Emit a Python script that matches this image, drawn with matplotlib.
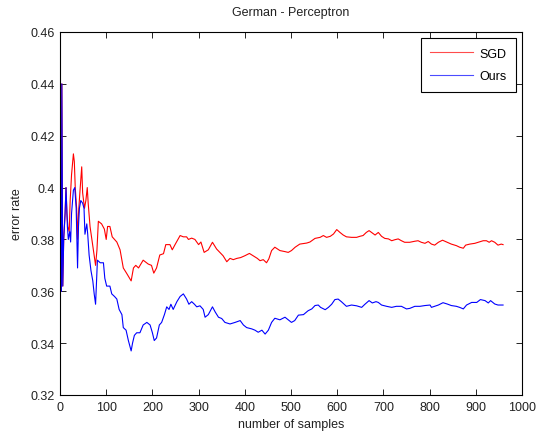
import matplotlib
matplotlib.use('Agg')
import matplotlib.pyplot as plt

# values (sample index, error rate)
sgd_n = [3, 4, 5, 6, 8, 11, 13, 15, 17, 20, 22, 25, 29, 31, 33, 36, 38, 40, 43, 47,
         49, 53, 56, 59, 61, 65, 69, 74, 77, 80, 83, 90, 96, 100, 103, 108, 113, 123,
         130, 137, 144, 154, 159, 164, 170, 180, 191, 198, 203, 209, 216, 224, 229,
         238, 243, 249, 260, 267, 274, 278, 285, 292, 300, 305, 312, 321, 330, 339,
         346, 353, 361, 368, 375, 383, 391, 400, 410, 418, 427, 433, 440, 447, 452,
         458, 465, 476, 487, 494, 501, 509, 519, 534, 541, 552, 563, 570, 577, 585,
         592, 599, 606, 613, 620, 631, 642, 649, 656, 663, 669, 676, 682, 689, 696,
         703, 711, 718, 725, 732, 739, 746, 757, 768, 775, 782, 790, 797, 804, 811,
         819, 828, 838, 847, 858, 865, 873, 878, 887, 898, 907, 916, 923, 929, 934,
         941, 948, 955, 959]
sgd_err = [0.360, 0.440, 0.400, 0.362, 0.380, 0.390, 0.400, 0.390, 0.385, 0.383,
           0.395, 0.405, 0.413, 0.410, 0.400, 0.392, 0.380, 0.390, 0.398, 0.408,
           0.398, 0.392, 0.395, 0.400, 0.394, 0.385, 0.380, 0.374, 0.370, 0.376,
           0.387, 0.386, 0.384, 0.380, 0.385, 0.385, 0.381, 0.379, 0.376, 0.369,
           0.367, 0.364, 0.369, 0.370, 0.369, 0.372, 0.3705, 0.370, 0.367, 0.369,
           0.374, 0.3745, 0.378, 0.378, 0.376, 0.378, 0.3815, 0.381, 0.381, 0.380,
           0.3805, 0.380, 0.378, 0.379, 0.375, 0.376, 0.3789, 0.3763, 0.375, 0.3737,
           0.3714, 0.3727, 0.3722, 0.3727, 0.373, 0.3737, 0.3746, 0.3737, 0.3727,
           0.3718, 0.3722, 0.371, 0.3725, 0.3757, 0.377, 0.3757, 0.3753, 0.375,
           0.3757, 0.377, 0.3782, 0.3786, 0.379, 0.3804, 0.3808, 0.3815, 0.3808,
           0.3812, 0.3821, 0.3838, 0.3827, 0.3817, 0.381, 0.3808, 0.3808, 0.3812,
           0.3815, 0.3827, 0.3834, 0.3825, 0.3817, 0.3827, 0.3812, 0.3804, 0.3802,
           0.3795, 0.3799, 0.3802, 0.3795, 0.3789, 0.3789, 0.3793, 0.3795, 0.3789,
           0.3785, 0.3792, 0.3782, 0.3778, 0.3789, 0.3797, 0.3789, 0.3782, 0.3776,
           0.377, 0.3766, 0.3778, 0.3782, 0.3785, 0.379, 0.3795, 0.3795, 0.3789,
           0.3795, 0.3789, 0.3778, 0.3782, 0.378]

ours_n = [3, 4, 5, 6, 8, 11, 13, 16, 18, 21, 23, 25, 29, 32, 35, 37, 38, 40, 42, 45,
          49, 52, 54, 58, 60, 63, 67, 71, 74, 77, 81, 87, 94, 97, 101, 108, 112, 118,
          123, 128, 134, 137, 143, 148, 154, 157, 161, 166, 173, 180, 188, 195, 200,
          204, 209, 215, 220, 226, 231, 236, 240, 245, 253, 260, 267, 274, 279, 285,
          291, 296, 303, 310, 314, 321, 330, 336, 343, 350, 357, 368, 379, 390, 397,
          404, 415, 422, 429, 437, 444, 451, 458, 465, 476, 487, 494, 501, 508, 516,
          527, 537, 545, 552, 559, 564, 574, 581, 588, 595, 602, 609, 620, 631, 642,
          653, 660, 669, 676, 684, 689, 696, 707, 718, 728, 739, 750, 757, 768, 779,
          790, 801, 804, 811, 819, 829, 838, 847, 858, 865, 873, 880, 891, 902, 910,
          920, 927, 932, 941, 948, 959]
ours_err = [0.360, 0.440, 0.400, 0.362, 0.380, 0.390, 0.400, 0.385, 0.380, 0.383,
            0.379, 0.390, 0.399, 0.400, 0.392, 0.377, 0.369, 0.385, 0.392, 0.395,
            0.394, 0.392, 0.382, 0.386, 0.382, 0.374, 0.368, 0.364, 0.359, 0.355,
            0.372, 0.371, 0.371, 0.365, 0.362, 0.362, 0.359, 0.358, 0.357, 0.353,
            0.351, 0.346, 0.345, 0.341, 0.337, 0.340, 0.343, 0.344, 0.344, 0.347,
            0.348, 0.347, 0.344, 0.341, 0.342, 0.347, 0.348, 0.351, 0.354, 0.353,
            0.355, 0.353, 0.356, 0.358, 0.359, 0.357, 0.355, 0.356, 0.355, 0.354,
            0.3544, 0.353, 0.350, 0.351, 0.354, 0.352, 0.350, 0.3495, 0.348, 0.3474,
            0.348, 0.3487, 0.347, 0.346, 0.3455, 0.345, 0.3442, 0.345, 0.3435, 0.345,
            0.348, 0.3496, 0.349, 0.350, 0.349, 0.348, 0.3487, 0.3508, 0.351, 0.3525,
            0.3532, 0.3545, 0.3547, 0.3538, 0.3529, 0.3538, 0.355, 0.3568, 0.357,
            0.356, 0.3542, 0.3547, 0.3544, 0.3538, 0.355, 0.3564, 0.3555, 0.356,
            0.3557, 0.3547, 0.3542, 0.3538, 0.3542, 0.3542, 0.3532, 0.3534, 0.3542,
            0.3542, 0.3545, 0.3547, 0.3538, 0.3542, 0.3547, 0.3556, 0.3551, 0.3545,
            0.3542, 0.3538, 0.3532, 0.3547, 0.3557, 0.3557, 0.3568, 0.3564, 0.3555,
            0.3564, 0.3551, 0.3547, 0.3547]

yticks = [0.32, 0.34, 0.36, 0.38, 0.40, 0.42, 0.44, 0.46]
ytick_labels = ['0.32', '0.34', '0.36', '0.38', '0.4', '0.42', '0.44', '0.46']
xticks = list(range(0, 1001, 100))

plt.rcParams['font.family'] = ['Liberation Sans', 'DejaVu Sans']
plt.rcParams['font.size'] = 9

fig = plt.figure(figsize=(5.38, 4.35), dpi=100)
ax = fig.add_axes([60/538, 39/435, 462/538, 363/435])

ax.plot(sgd_n, sgd_err, color='red', lw=0.8, label='SGD')
ax.plot(ours_n, ours_err, color='blue', lw=0.8, label='Ours')

ax.set_xlim(0, 1000)
ax.set_ylim(0.32, 0.46)
ax.set_xticks(xticks)
ax.set_yticks(yticks)
ax.set_yticklabels(ytick_labels)
ax.tick_params(direction='in', top=True, right=True, length=4, width=0.6,
               labelsize=9, pad=4, labelcolor='#222222')
for s in ax.spines.values():
    s.set_linewidth(0.8)

ax.set_title('German - Perceptron', fontsize=9, pad=12, color='#222222')
ax.set_xlabel('number of samples', fontsize=9, labelpad=4, color='#222222')
ax.set_ylabel('error rate', fontsize=9, labelpad=5, color='#222222')

leg = ax.legend(loc='upper right', fancybox=False, framealpha=1, edgecolor='black',
                handlelength=3.4, borderaxespad=0.5, labelspacing=0.85,
                handletextpad=0.5, borderpad=0.75, fontsize=9)
leg.get_frame().set_linewidth(0.8)
for ln in leg.get_lines():
    ln.set_alpha(0.7)

fig.savefig('out.png', dpi=100)
